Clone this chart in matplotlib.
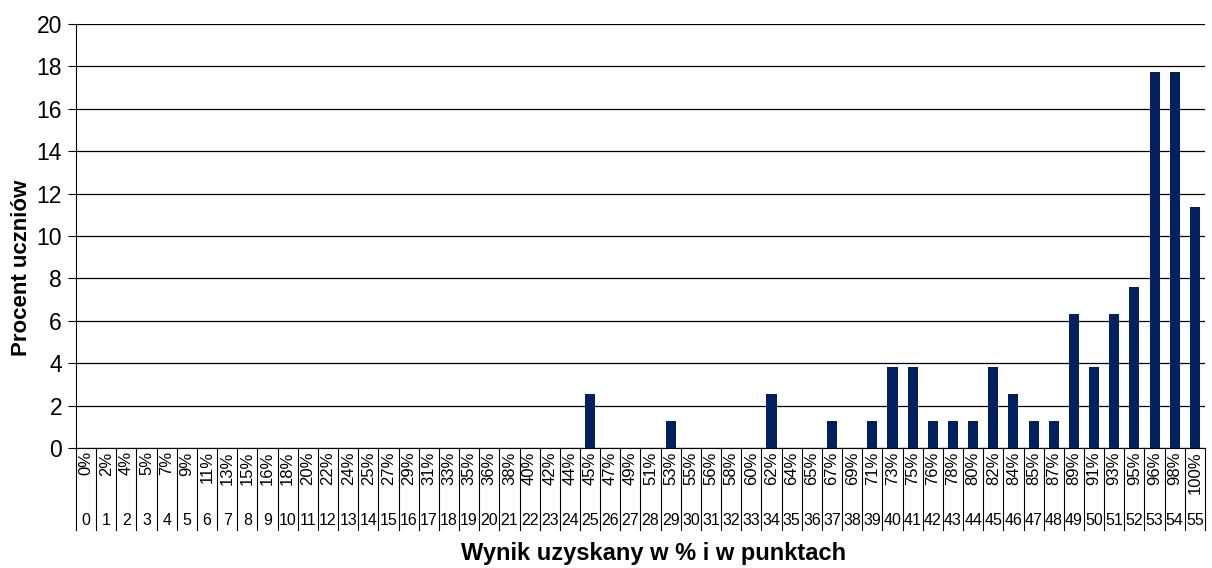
import matplotlib
matplotlib.use("Agg")
import matplotlib.pyplot as plt
import numpy as np
from matplotlib.transforms import blended_transform_factory

plt.rcParams["font.family"] = ["Liberation Sans", "DejaVu Sans"]

# points 0..55 and the matching percent labels
points = list(range(56))
percent_labels = ["0%", "2%", "4%", "5%", "7%", "9%", "11%", "13%", "15%", "16%",
                  "18%", "20%", "22%", "24%", "25%", "27%", "29%", "31%", "33%", "35%",
                  "36%", "38%", "40%", "42%", "44%", "45%", "47%", "49%", "51%", "53%",
                  "55%", "56%", "58%", "60%", "62%", "64%", "65%", "67%", "69%", "71%",
                  "73%", "75%", "76%", "78%", "80%", "82%", "84%", "85%", "87%", "89%",
                  "91%", "93%", "95%", "96%", "98%", "100%"]
# percent of students for each score (only non-zero listed)
nonzero = {25: 2.53, 29: 1.27, 34: 2.53, 37: 1.27, 39: 1.27, 40: 3.80, 41: 3.80,
           42: 1.27, 43: 1.27, 44: 1.27, 45: 3.80, 46: 2.53, 47: 1.27, 48: 1.27,
           49: 6.33, 50: 3.80, 51: 6.33, 52: 7.59, 53: 17.72, 54: 17.72, 55: 11.39}
values = [nonzero.get(p, 0.0) for p in points]

fig = plt.figure(figsize=(12.12, 5.68), dpi=100)
ax = fig.add_axes([0.0627, 0.2113, 0.9315, 0.7464])

ax.bar(points, values, width=0.5, color="#002060", zorder=3)

ax.set_xlim(-0.5, 55.5)
ax.set_ylim(0, 20)
ax.set_yticks(np.arange(0, 21, 2))
ax.yaxis.grid(True, color="black", linewidth=0.9)
ax.set_axisbelow(True)
ax.tick_params(axis="y", labelsize=16.5, length=6, width=0.8, direction="out", pad=4)
ax.set_xticks([])

for s in ["top", "right"]:
    ax.spines[s].set_visible(False)
ax.spines["left"].set_color("black")
ax.spines["bottom"].set_color("black")

# category table under the axis
trans = blended_transform_factory(ax.transData, ax.transAxes)
for k in range(57):
    ax.plot([k - 0.5, k - 0.5], [0, -0.193], transform=trans, color="black",
            linewidth=0.8, clip_on=False)
for p, lab in zip(points, percent_labels):
    ax.text(p, -0.008, lab, transform=trans, rotation=90, ha="center", va="top",
            fontsize=12)
    ax.text(p, -0.17, str(p), transform=trans, ha="center", va="center",
            fontsize=11.5)

fig.text(0.018, 0.528, "Procent uczniów", rotation=90, ha="center", va="center",
         fontsize=16, fontweight="bold")
fig.text(0.539, 0.026, "Wynik uzyskany w % i w punktach", ha="center", va="center",
         fontsize=17, fontweight="bold")

fig.savefig("out.png", dpi=100)
